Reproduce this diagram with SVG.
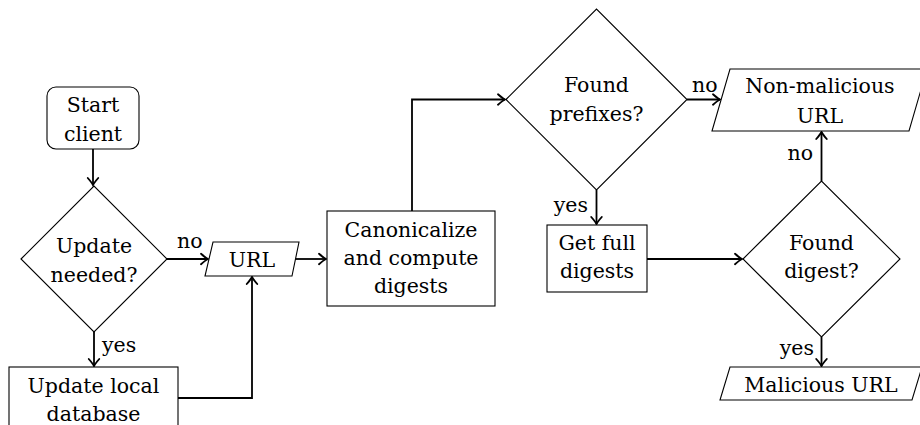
<svg xmlns="http://www.w3.org/2000/svg" width="920" height="425" viewBox="0 0 920 425">
<defs>
<style>
.n{fill:#fff;stroke:#000;stroke-width:1.1}
.t{text-anchor:middle}
.c{fill:none;stroke:#000;stroke-width:1.8;marker-end:url(#ah)}
</style>
<marker id="ah" markerUnits="userSpaceOnUse" markerWidth="14" markerHeight="14" viewBox="-8 -6 10 12" refX="0" refY="0" orient="auto">
<path d="M-6,-4.5 Q-2,-1 0,0 Q-2,1 -6,4.5" fill="none" stroke="#000" stroke-width="1.6" stroke-linecap="round"/>
</marker>
</defs>
<rect width="920" height="425" fill="#fff"/>
<g font-family="'DejaVu Serif', serif" font-size="20.5" fill="#000">
<g id="connectors">
<path class="c" d="M93,149 V185"/>
<path class="c" d="M167,259 H208"/>
<path class="c" d="M94,332 V366"/>
<path class="c" d="M178,398 H252 V277"/>
<path class="c" d="M296,259 H326"/>
<path class="c" d="M412,211 V99.5 H505"/>
<path class="c" d="M687,99.5 H720"/>
<path class="c" d="M596.5,190 V224"/>
<path class="c" d="M647,259 H742"/>
<path class="c" d="M821.5,181 V132"/>
<path class="c" d="M821.5,337 V366"/>
<text x="177" y="248">no</text>
<text x="102" y="352">yes</text>
<text x="692" y="92">no</text>
<text x="588" y="212" text-anchor="end">yes</text>
<text x="813" y="160" text-anchor="end">no</text>
<text x="814" y="355" text-anchor="end">yes</text>
</g>
<g id="start">
<rect class="n" x="47" y="87" width="92" height="62" rx="9"/>
<text class="t" x="93" y="112">Start</text>
<text class="t" x="93" y="141">client</text>
</g>
<g id="update_needed">
<polygon class="n" points="21,259 94,186 167,259 94,332"/>
<text class="t" x="94" y="253">Update</text>
<text class="t" x="94" y="282">needed?</text>
</g>
<g id="update_local">
<rect class="n" x="9" y="367" width="169" height="66"/>
<text class="t" x="93.5" y="393">Update local</text>
<text class="t" x="93.5" y="421">database</text>
</g>
<g id="url">
<polygon class="n" points="213,242 299,242 292,276 205,276"/>
<text class="t" x="252" y="267">URL</text>
</g>
<g id="canonicalize">
<rect class="n" x="327" y="211" width="168" height="95"/>
<text class="t" x="411" y="237">Canonicalize</text>
<text class="t" x="411" y="265">and compute</text>
<text class="t" x="411" y="293">digests</text>
</g>
<g id="found_prefixes">
<polygon class="n" points="506,99.5 596.5,9 687,99.5 596.5,190"/>
<text class="t" x="596.5" y="92">Found</text>
<text class="t" x="596.5" y="121">prefixes?</text>
</g>
<g id="get_full">
<rect class="n" x="547" y="225" width="100" height="67"/>
<text class="t" x="597" y="250">Get full</text>
<text class="t" x="597" y="278">digests</text>
</g>
<g id="found_digest">
<polygon class="n" points="743,259 821.5,181 900,259 821.5,337"/>
<text class="t" x="821.5" y="250">Found</text>
<text class="t" x="821.5" y="278">digest?</text>
</g>
<g id="non_malicious">
<polygon class="n" points="730,69 927,69 909,131 712,131"/>
<text class="t" x="820" y="93">Non-malicious</text>
<text class="t" x="820" y="123">URL</text>
</g>
<g id="malicious">
<polygon class="n" points="730,367 922,367 912,400 720,400"/>
<text class="t" x="821" y="392">Malicious URL</text>
</g>
</g>
</svg>
